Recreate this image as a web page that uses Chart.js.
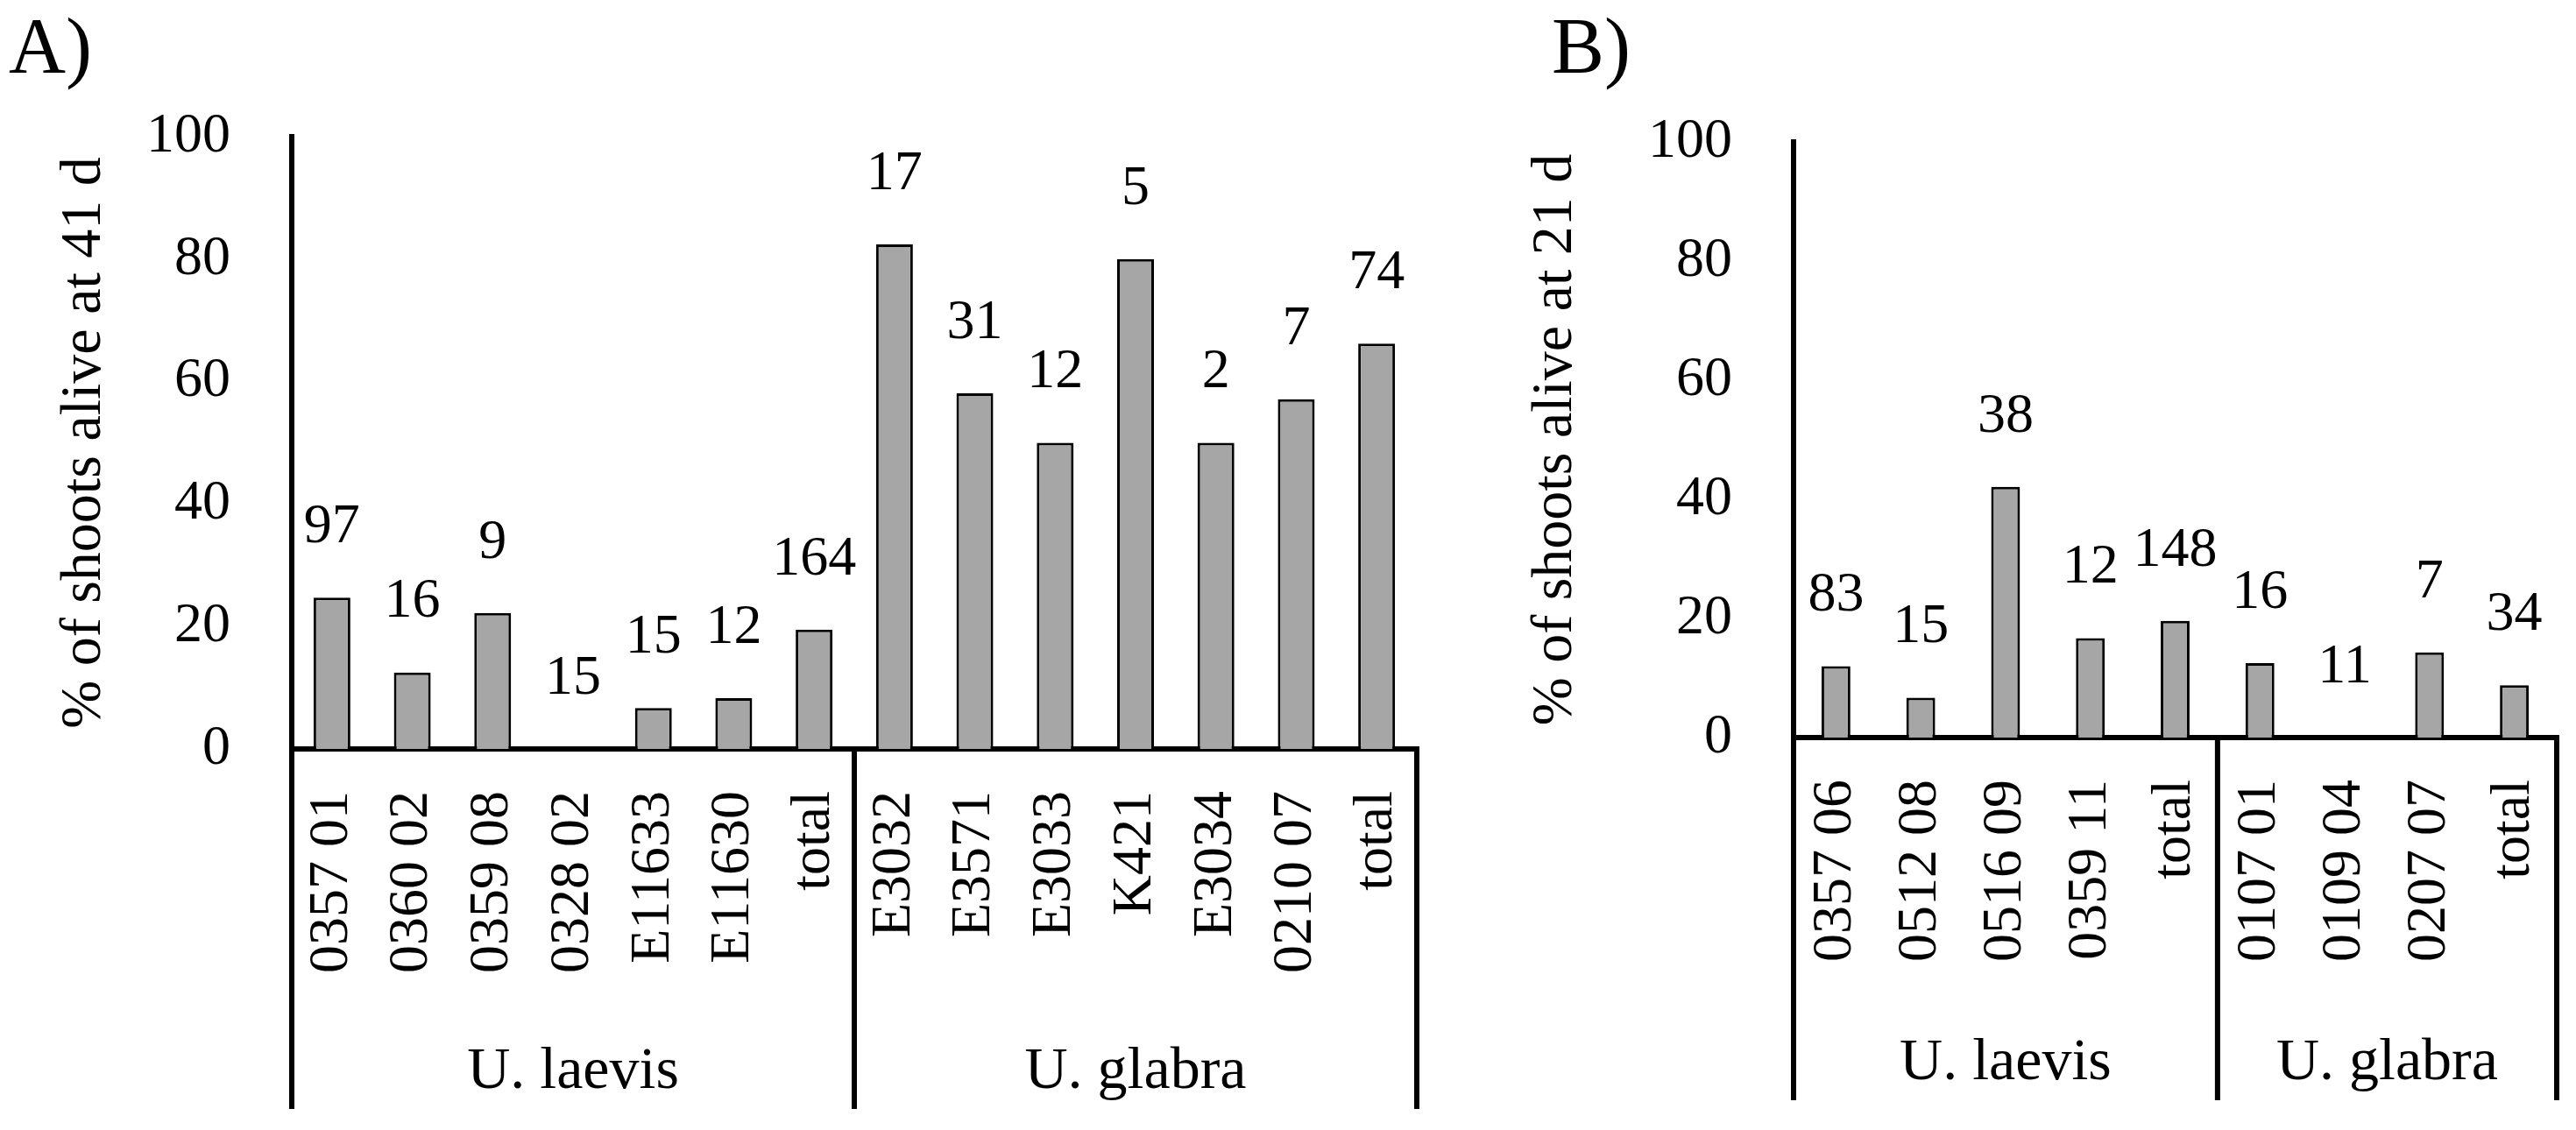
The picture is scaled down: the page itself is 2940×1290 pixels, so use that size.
<!DOCTYPE html>
<html>
<head>
<meta charset="utf-8">
<script src="https://cdn.jsdelivr.net/npm/chart.js@4.4.0/dist/chart.umd.min.js"></script>
<style>
body{margin:0;background:#fff;width:2940px;height:1290px;position:relative;overflow:hidden}
canvas{position:absolute;top:0}
#canvasA{left:0}
#canvasB{left:1700px}
</style>
</head>
<body>
<canvas id="canvasA" width="1660" height="1290"></canvas>
<canvas id="canvasB" width="1240" height="1290"></canvas>
<script>
// panel A: 41 d
var labelsA = ['0357 01','0360 02','0359 08','0328 02','E11633','E11630','total',
               'E3032','E3571','E3033','K421','E3034','0210 07','total'];
var valuesA = [24.7,12.5,22.2,0,6.7,8.3,19.5,82.4,58.1,50,80,50,57.1,66.2];
var countsA = [97,16,9,15,15,12,164,17,31,12,5,2,7,74];
var groupsA = ['U. laevis','U. glabra'];
var groupSizesA = [7,7];

// panel B: 21 d
var labelsB = ['0357 06','0512 08','0516 09','0359 11','total','0107 01','0109 04','0207 07','total'];
var valuesB = [12.0,6.7,42.1,16.7,19.6,12.5,0,14.3,8.8];
var countsB = [83,15,38,12,148,16,11,7,34];
var groupsB = ['U. laevis','U. glabra'];
var groupSizesB = [5,4];

var yMin = 0, yMax = 100, yStep = 20;

var FONT = "'Liberation Serif', 'DejaVu Serif', serif";
Chart.defaults.font.family = FONT;
Chart.defaults.color = '#000';

var extras = {
  id: 'extras',
  afterDatasetsDraw: function(chart) {
    var o = chart.options.plugins.extras;
    var ctx = chart.ctx;
    var xs = chart.scales.x;
    var area = chart.chartArea;
    var meta = chart.getDatasetMeta(0);
    ctx.save();
    ctx.fillStyle = '#000';
    ctx.strokeStyle = '#000';

    // n counts above bars
    ctx.font = '64px ' + FONT;
    ctx.textAlign = 'center';
    ctx.textBaseline = 'middle';
    meta.data.forEach(function(bar, i) {
      ctx.fillText(String(o.counts[i]), bar.x, bar.y - 80);
    });

    // group dividers and names
    var n = o.labels.length;
    var edgeAt = function(b) {
      if (b === 0) return xs.left;
      if (b >= n) return xs.right;
      return (xs.getPixelForValue(b - 1) + xs.getPixelForValue(b)) / 2;
    };
    var edges = [edgeAt(0)];
    var cum = 0;
    o.groupSizes.forEach(function(s) { cum += s; edges.push(edgeAt(cum)); });
    ctx.lineWidth = 6;
    edges.forEach(function(x) {
      ctx.beginPath();
      ctx.moveTo(x, area.bottom - 3);
      ctx.lineTo(x, o.dividerBottom);
      ctx.stroke();
    });
    ctx.font = '68px ' + FONT;
    ctx.textBaseline = 'alphabetic';
    o.groups.forEach(function(g, k) {
      ctx.fillText(g, (edges[k] + edges[k + 1]) / 2, o.groupBaseline);
    });

    // panel letter
    ctx.font = '90px ' + FONT;
    ctx.textAlign = 'left';
    ctx.fillText(o.panel, o.panelX, 83);
    ctx.restore();
  }
};

function makeChart(id, p) {
  var ctx = document.getElementById(id).getContext('2d');
  return new Chart(ctx, {
    type: 'bar',
    data: {
      labels: p.labels,
      datasets: [{
        data: p.values,
        backgroundColor: '#a6a6a6',
        borderColor: '#000',
        borderWidth: 3,
        categoryPercentage: 1,
        barPercentage: p.barPct
      }]
    },
    options: {
      responsive: false,
      animation: false,
      layout: { padding: { left: 0, right: p.padRight, top: p.top, bottom: 0 } },
      plugins: {
        legend: { display: false },
        tooltip: { enabled: false },
        extras: {
          counts: p.counts, labels: p.labels, groups: p.groups, groupSizes: p.groupSizes,
          dividerBottom: p.dividerBottom, groupBaseline: p.groupBaseline,
          panel: p.panel, panelX: p.panelX
        }
      },
      scales: {
        x: {
          grid: { display: false, drawTicks: false },
          border: { display: true, color: '#000', width: 6 },
          ticks: {
            autoSkip: false, minRotation: 90, maxRotation: 90,
            padding: 48, font: { size: 64 }, color: '#000'
          },
          afterFit: function(s) {
            s.height = p.xHeight;
            s.paddingLeft = 0;
            s.paddingRight = 0;
          }
        },
        y: {
          min: yMin, max: yMax,
          grid: { display: false, drawTicks: false },
          border: { display: true, color: '#000', width: 6 },
          ticks: { stepSize: yStep, padding: 70, font: { size: 64 }, color: '#000' },
          title: {
            display: true, text: p.yTitle, color: '#000',
            font: { size: 66 }, padding: { top: p.titlePad, bottom: 0 }
          },
          afterFit: function(s) { s.width = p.yWidth; }
        }
      }
    },
    plugins: [extras]
  });
}

function drawAll() {
  makeChart('canvasA', {
    labels: labelsA, values: valuesA, counts: countsA, groups: groupsA, groupSizes: groupSizesA,
    barPct: 0.458, padRight: 43, top: 156, xHeight: 435, yWidth: 333, titlePad: 57,
    yTitle: '% of shoots alive at 41 d', dividerBottom: 1266, groupBaseline: 1242,
    panel: 'A)', panelX: 10
  });

  makeChart('canvasB', {
    labels: labelsB, values: valuesB, counts: countsB, groups: groupsB, groupSizes: groupSizesB,
    barPct: 0.34, padRight: 22, top: 162, xHeight: 448, yWidth: 347, titlePad: 36,
    yTitle: '% of shoots alive at 21 d', dividerBottom: 1256, groupBaseline: 1232,
    panel: 'B)', panelX: 71
  });
}

if (document.fonts && document.fonts.load) {
  Promise.all([
    document.fonts.load("64px 'Liberation Serif'")
  ]).then(drawAll, drawAll);
} else {
  drawAll();
}
</script>
</body>
</html>
